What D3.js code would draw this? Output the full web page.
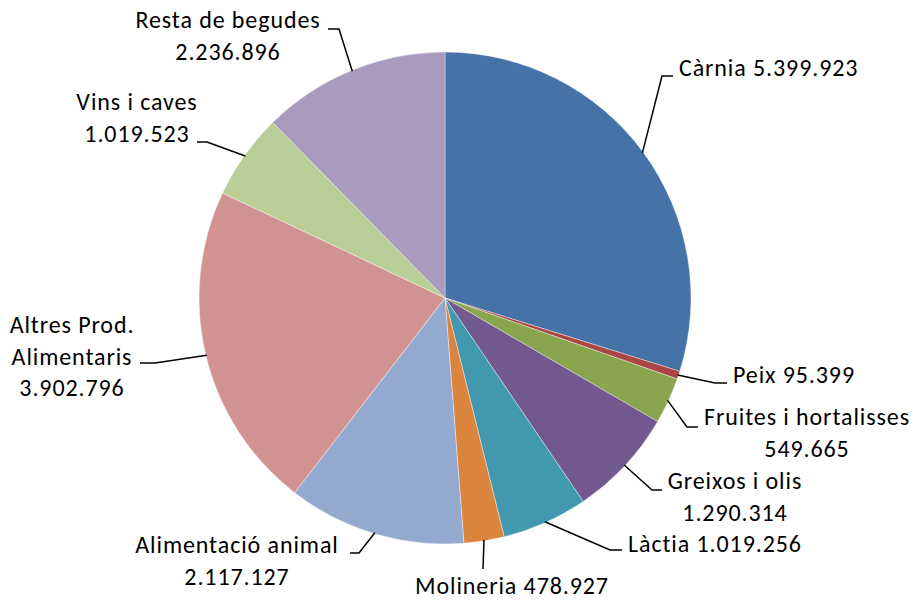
<!DOCTYPE html>
<html>
<head>
<meta charset="utf-8">
<script src="https://cdn.jsdelivr.net/npm/d3@7"></script>
<style>
  html, body { margin: 0; padding: 0; background: #fff; }
  svg text { font-family: Carlito, Calibri, Lato, sans-serif; fill: #000; }
</style>
</head>
<body>
<svg id="chart" width="913" height="601"></svg>
<script>
// ---- data ----
const categories = ["Càrnia", "Peix", "Fruites i hortalisses", "Greixos i olis", "Làctia",
  "Molineria", "Alimentació animal", "Altres Prod. Alimentaris", "Vins i caves", "Resta de begudes"];
const values = [5399923, 95399, 549665, 1290314, 1019256, 478927, 2117127, 3902796, 1019523, 2236896];
const colors = ["#4572A7", "#AA4643", "#89A54E", "#71588F", "#4198AF",
  "#DB843D", "#93A9CF", "#D19392", "#B9CD96", "#A99BBD"];

// ---- label layout (positions only) ----
const labelLayout = [
  { split: "inline", anchor: "start",  x: 679, y: 76,  ex: 662, ey: 76,  hx: 673 },
  { split: "inline", anchor: "start",  x: 733, y: 383, ex: 715, ey: 383, hx: 727 },
  { split: "wrap",   anchor: "middle", x: 807, y: 425, ex: 687, ey: 427, hx: 698 },
  { split: "wrap",   anchor: "middle", x: 735, y: 489, ex: 652, ey: 490, hx: 662 },
  { split: "inline", anchor: "start",  x: 628, y: 552, ex: 610, ey: 550, hx: 622 },
  { split: "inline", anchor: "middle", x: 512, y: 594, ex: 483, ey: 569, hx: 483 },
  { split: "wrap",   anchor: "middle", x: 237, y: 553, ex: 359, ey: 553, hx: 350 },
  { split: "wrap3",  anchor: "middle", x: 72,  y: 333, ex: 155, ey: 363, hx: 140 },
  { split: "wrap",   anchor: "middle", x: 137, y: 110, ex: 207, ey: 142, hx: 197 },
  { split: "wrap",   anchor: "middle", x: 228, y: 28,  ex: 339, ey: 29,  hx: 328 }
];
const lineHeight = 31.5;

const cx = 445, cy = 298, radius = 246;

const fmt = v => d3.format(",")(v).replace(/,/g, ".");

const svg = d3.select("#chart");
const data = categories.map((c, i) => ({ cat: c, value: values[i], color: colors[i], layout: labelLayout[i] }));

const pie = d3.pie().value(d => d.value).sort(null);
const arcs = pie(data);
const arc = d3.arc().innerRadius(0).outerRadius(radius);

const g = svg.append("g").attr("transform", `translate(${cx},${cy})`);
g.selectAll("path.slice").data(arcs).enter().append("path")
  .attr("class", "slice")
  .attr("d", arc)
  .attr("fill", d => d.data.color)
  .attr("stroke", "#ffffff")
  .attr("stroke-width", 0.4);

// leaders
const edgePoint = d => {
  const a = (d.startAngle + d.endAngle) / 2;
  return [cx + (radius - 1) * Math.sin(a), cy - (radius - 1) * Math.cos(a)];
};
svg.selectAll("polyline.leader").data(arcs).enter().append("polyline")
  .attr("class", "leader")
  .attr("points", d => {
    const p = edgePoint(d), L = d.data.layout;
    return [p, [L.ex, L.ey], [L.hx, L.ey]].map(q => q.join(",")).join(" ");
  })
  .attr("fill", "none")
  .attr("stroke", "#000")
  .attr("stroke-width", 1.5);

// labels
function linesFor(d) {
  const v = fmt(d.data.value), L = d.data.layout;
  if (L.split === "inline") return [d.data.cat + " " + v];
  if (L.split === "wrap3") {
    const parts = d.data.cat.split(" ");
    return [parts.slice(0, 2).join(" "), parts.slice(2).join(" "), v];
  }
  return [d.data.cat, v];
}
const labels = svg.selectAll("text.lbl").data(arcs).enter().append("text")
  .attr("class", "lbl")
  .attr("font-size", 24)
  .attr("letter-spacing", 0.9)
  .attr("text-anchor", d => d.data.layout.anchor);
labels.each(function(d) {
  const L = d.data.layout;
  d3.select(this).selectAll("tspan").data(linesFor(d)).enter().append("tspan")
    .attr("x", L.x)
    .attr("y", (t, i) => L.y + i * lineHeight)
    .text(t => t);
});
</script>
</body>
</html>
